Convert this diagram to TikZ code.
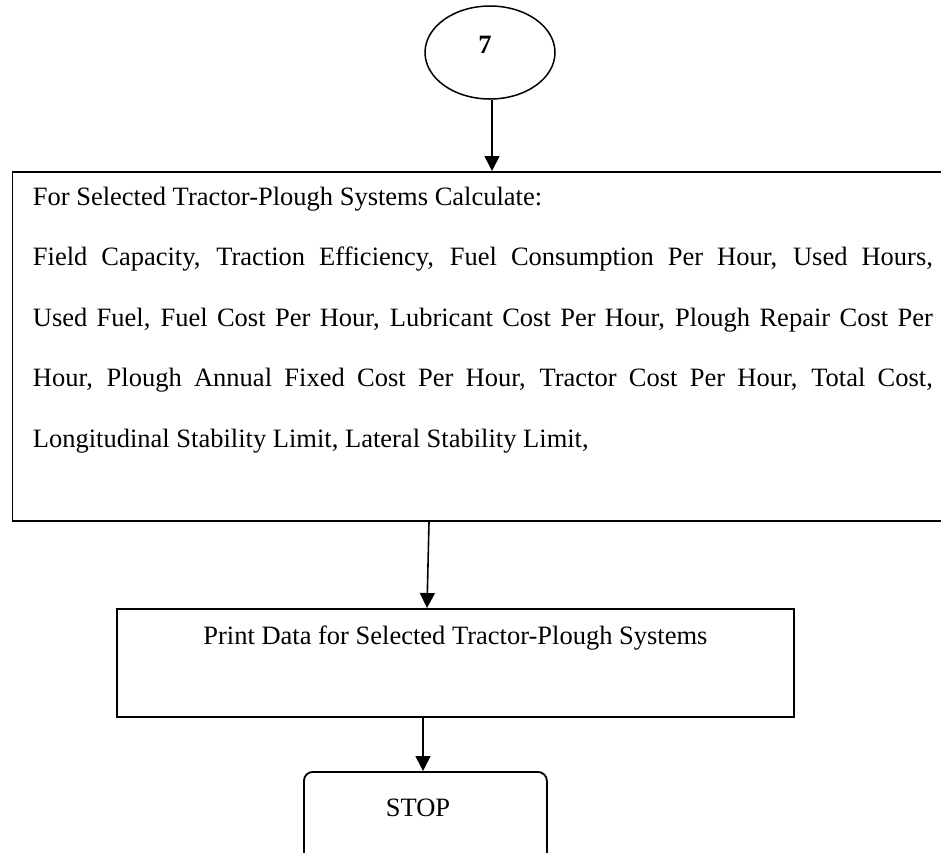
\documentclass[tikz,border=0pt]{standalone}
\usepackage{fontspec}
\setmainfont{Liberation Serif}
\usetikzlibrary{shapes.geometric,arrows.meta}

\begin{document}
\begin{tikzpicture}[x=1pt, y=-1pt]
   \tikzstyle{oval} = [ellipse, draw, line width=1.5pt,
                       minimum width=130pt, minimum height=93pt,
                       inner sep=0pt, font=\fontsize{26.5}{60.5}\selectfont];
   \tikzstyle{box} = [rectangle, draw, line width=1.8pt, inner sep=0pt,
                      font=\fontsize{26.5}{60.5}\selectfont];
   \tikzstyle{rbox} = [box, rounded corners=9pt];
   \tikzstyle{arr} = [black, line width=1.6pt,
                      -{Triangle[length=15pt,width=15pt]}];

   \useasboundingbox (0,0) rectangle (941,852);
   \clip (0,0) rectangle (941,852);

    \node[oval] (s7) at (490,52.5)
    {\textbf{7}\hspace{10pt}\rule[-16pt]{0pt}{0pt}};

    \node[box, anchor=north west, inner xsep=20.5pt] (calc) at (11.5,171)
    {\parbox[c][349pt][t]{900pt}{\tolerance=10000\hbadness=10000
      \vspace*{15.2pt}For Selected Tractor-Plough Systems Calculate:\par
      Field Capacity, Traction Efficiency, Fuel Consumption Per Hour, Used Hours,\linebreak
      Used Fuel, Fuel Cost Per Hour, Lubricant Cost Per Hour, Plough Repair Cost Per\linebreak
      Hour, Plough Annual Fixed Cost Per Hour, Tractor Cost Per Hour, Total Cost,\linebreak
      Longitudinal Stability Limit, Lateral Stability Limit,}};

    \node[box, anchor=north west] (prt) at (116,608)
    {\parbox[c][108pt][t]{677pt}{\centering\vspace*{17pt}%
      Print Data for Selected Tractor-Plough Systems}};

    \node[rbox, anchor=north west] (stop) at (303,771)
    {\parbox[c][110pt][t]{243pt}{\vspace*{27pt}\hspace*{82pt}STOP}};

    %% x positions of the connectors
    \coordinate (x1) at (492,0);
    \coordinate (x2) at (429,0);
    \coordinate (x3) at (427,0);
    \coordinate (x4) at (423,0);

    \path[arr] (s7.south -| x1) edge (calc.north -| x1);
    \path[arr] (calc.south -| x2) edge (prt.north -| x3);
    \path[arr] (prt.south -| x4) edge (stop.north -| x4);

  \end{tikzpicture}
\end{document}
